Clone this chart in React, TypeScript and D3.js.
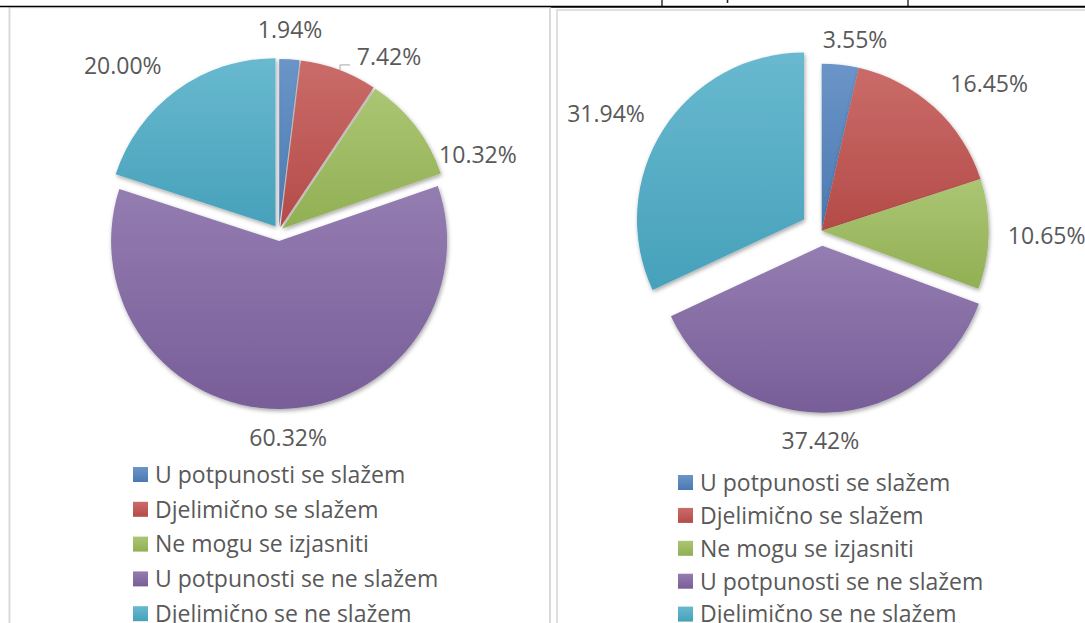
import React from "react";
import * as d3 from "d3";

// ---------- data ----------
const categories = [
  "U potpunosti se slažem",
  "Djelimično se slažem",
  "Ne mogu se izjasniti",
  "U potpunosti se ne slažem",
  "Djelimično se ne slažem",
];
const leftValues = [1.94, 7.42, 10.32, 60.32, 20.0];
const rightValues = [3.55, 16.45, 10.65, 37.42, 31.94];
const formatPct = (v: number) => v.toFixed(2) + "%";

// ---------- styles / layout ----------
const W = 1085;
const H = 623;
const FONT = "'Open Sans', 'Noto Sans', sans-serif";
const TEXT = "#595959";
const FONT_SIZE = 23;
const baseColors = ["#4F81BD", "#C0504D", "#9BBB59", "#8064A2", "#4BACC6"];

const leftLayout = {
  cx: 279,
  cy: 231,
  r: 168,
  explode: [4, 4, 4, 10, 6],
  labelR: 202,
  nudges: [
    [-1.5, 4.6],
    [38.4, 18.6],
    [36, 50],
    [7, -5],
    [-34, 3.3],
  ],
  leaders: [false, true, false, false, false],
  legendX: 133,
  legendY: 474.5,
  legendStep: 34.8,
};
const rightLayout = {
  cx: 821.7,
  cy: 230.7,
  r: 167,
  explode: [0, 0, 0, 15, 21],
  labelR: 201,
  nudges: [
    [11, 9],
    [32, 1],
    [24, 1],
    [-10, -5.5],
    [-28.5, 2],
  ],
  leaders: [false, false, false, false, false],
  legendX: 678,
  legendY: 482.5,
  legendStep: 32.9,
};

type Layout = typeof leftLayout;

function PieChart({ values, layout }: { values: number[]; layout: Layout }) {
  const { cx, cy, r, explode, labelR, nudges, leaders } = layout;
  const arcs = d3
    .pie<number>()
    .sort(null)
    .value((d) => d)(values);
  const arcGen = d3.arc<d3.PieArcDatum<number>>().innerRadius(0).outerRadius(r);

  return (
    <g>
      {arcs.map((a, i) => {
        const mid = (a.startAngle + a.endAngle) / 2;
        const ox = cx + explode[i] * Math.sin(mid);
        const oy = cy - explode[i] * Math.cos(mid);
        return (
          <path
            key={"s" + i}
            d={arcGen(a) || ""}
            transform={`translate(${ox},${oy})`}
            fill={`url(#grad${i})`}
            filter="url(#shadow)"
          />
        );
      })}
      {arcs.map((a, i) => {
        const mid = (a.startAngle + a.endAngle) / 2;
        const ox = cx + explode[i] * Math.sin(mid);
        const oy = cy - explode[i] * Math.cos(mid);
        const lx = ox + labelR * Math.sin(mid) + nudges[i][0];
        const ly = oy - labelR * Math.cos(mid) + nudges[i][1];
        let leader = null;
        if (leaders[i]) {
          const xEnd = lx - 39;
          const xStart = xEnd - 10;
          const yH = ly + 8.5;
          const yArc = oy - Math.sqrt(r * r - (xStart - ox) * (xStart - ox));
          leader = (
            <path
              d={`M${xStart},${yArc}L${xStart},${yH}L${xEnd},${yH}`}
              fill="none"
              stroke="#a6a6a6"
              strokeWidth={1}
            />
          );
        }
        return (
          <g key={"l" + i}>
            {leader}
            <text
              x={lx}
              y={ly}
              dy="0.36em"
              textAnchor="middle"
              fontFamily={FONT}
              fontSize={FONT_SIZE}
              fill={TEXT}
            >
              {formatPct(values[i])}
            </text>
          </g>
        );
      })}
    </g>
  );
}

function Legend({ layout }: { layout: Layout }) {
  const { legendX, legendY, legendStep } = layout;
  return (
    <g>
      {categories.map((c, i) => {
        const y = legendY + i * legendStep;
        return (
          <g key={c}>
            <rect x={legendX} y={y - 7.5} width={15} height={15} fill={`url(#grad${i})`} />
            <text
              x={legendX + 22}
              y={y + 8.3}
              fontFamily={FONT}
              fontSize={FONT_SIZE}
              fill={TEXT}
            >
              {c}
            </text>
          </g>
        );
      })}
    </g>
  );
}

export default function App() {
  return (
    <svg
      width={W}
      height={H}
      viewBox={`0 0 ${W} ${H}`}
      style={{ position: "absolute", left: 0, top: 0, background: "#fff" }}
    >
      <defs>
        {baseColors.map((c, i) => (
          <linearGradient key={i} id={`grad${i}`} x1="0" y1="0" x2="0" y2="1">
            <stop offset="0%" stopColor={d3.interpolateRgb(c, "#ffffff")(0.16)} />
            <stop offset="100%" stopColor={d3.color(c)!.darker(0.18).formatHex()} />
          </linearGradient>
        ))}
        <filter id="shadow" x="-20%" y="-20%" width="140%" height="140%">
          <feDropShadow dx="1" dy="2" stdDeviation="2" floodColor="#000" floodOpacity="0.35" />
        </filter>
      </defs>
      <rect x={0} y={0} width={W} height={H} fill="#fff" />

      {/* chart area borders */}
      <line x1={9.5} y1={7} x2={9.5} y2={H} stroke="#d9d9d9" strokeWidth={2} />
      <line x1={9.5} y1={7.8} x2={550} y2={7.8} stroke="#e6e6e6" strokeWidth={1} />
      <line x1={550} y1={7} x2={550} y2={H} stroke="#d9d9d9" strokeWidth={2} />
      <rect x={557} y={10} width={600} height={700} fill="none" stroke="#d9d9d9" strokeWidth={1.6} />

      {/* table lines */}
      <line x1={0} y1={6.5} x2={551} y2={6.5} stroke="#000" strokeWidth={1.3} />
      <line x1={551} y1={6.7} x2={W} y2={6.7} stroke="#000" strokeWidth={2} />
      <line x1={662} y1={0} x2={662} y2={6} stroke="#000" strokeWidth={1.2} />
      <line x1={908} y1={0} x2={908} y2={6} stroke="#000" strokeWidth={1.2} />
      <line x1={727.5} y1={0} x2={727.5} y2={3} stroke="#222" strokeWidth={1.6} />

      <PieChart values={leftValues} layout={leftLayout} />
      <Legend layout={leftLayout} />
      <PieChart values={rightValues} layout={rightLayout} />
      <Legend layout={rightLayout} />
    </svg>
  );
}
